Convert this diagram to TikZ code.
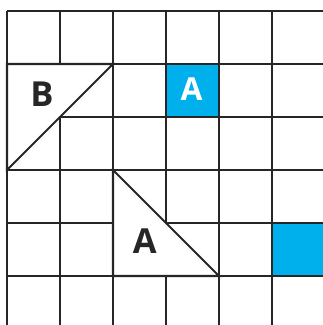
\documentclass[tikz,border=0pt]{standalone}
\usepackage{fontspec}
\setmainfont{Open Sans}
\definecolor{cellblue}{RGB}{0,176,236}
\begin{document}
\begin{tikzpicture}[x=1cm,y=-1cm,
  gridline/.style={line width=1.1pt, draw=black!85},
  cutout/.style={gridline, fill=white, line join=miter},
  biglbl/.style={font=\bfseries\fontsize{18.5}{18.5}\selectfont, text=black!85},
  celllbl/.style={font=\bfseries\fontsize{17}{17}\selectfont, text=white}
]
\useasboundingbox (-0.132,-0.2075) rectangle (5.962,5.925);
\clip (-0.132,-0.2075) rectangle (5.962,5.925);
% shaded cells
\fill[cellblue] (3,1) rectangle (4,2);
\fill[cellblue] (5,4) rectangle (6,5);
\draw[gridline] (0,0) grid (6,6);
% the two triangles
\draw[cutout] (0,1) -- (2,1) -- (0,3) -- cycle;
\draw[cutout] (2,3) -- (2,5) -- (4,5) -- cycle;
\node[biglbl] (labelB) at (0.66,1.575) {B};
\node[biglbl] (labelA) at (2.6,4.34) {A};
\node[celllbl] (cellA) at (3.48,1.48) {A};
\end{tikzpicture}
\end{document}
